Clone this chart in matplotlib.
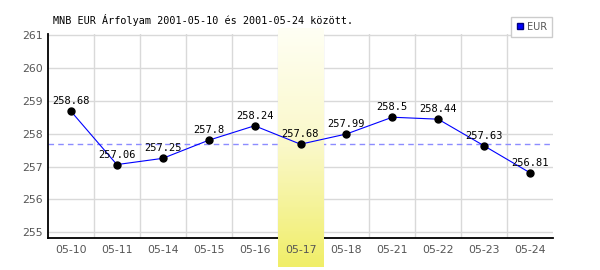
import numpy as np
import matplotlib.pyplot as plt
from matplotlib.lines import Line2D
from matplotlib.colors import LinearSegmentedColormap

# adatok
dates = ['05-10', '05-11', '05-14', '05-15', '05-16', '05-17',
         '05-18', '05-21', '05-22', '05-23', '05-24']
eur = [258.68, 257.06, 257.25, 257.8, 258.24, 257.68,
       257.99, 258.5, 258.44, 257.63, 256.81]
yticks = [255, 256, 257, 258, 259, 260, 261]
highlight = 5  # 05-17
title = 'MNB EUR Árfolyam 2001-05-10 és 2001-05-24 között.'

mono = 'DejaVu Sans Mono'
grey = '#555555'

fig = plt.figure(figsize=(6, 2.7), dpi=100)
ax = fig.add_axes([48/600, 1 - 238.3/270, (553 - 48)/600, (238.3 - 34.3)/270])
ax.set_facecolor('none')

x = np.arange(len(dates))
ax.set_xlim(-0.5, len(dates) - 0.5)
ax.set_ylim(254.82, 261.02)

# rács kézzel, hogy a sárga sáv alá kerüljön
for yv in yticks:
    ax.axhline(yv, color='#d9d9d9', lw=1, zorder=0.5)
for xv in x[:-1] + 0.5:
    ax.axvline(xv, color='#d9d9d9', lw=1, zorder=0.5)

# szaggatott vonal a kiemelt nap értékénél (a sáv alatt)
ax.axhline(eur[highlight], color='#8c8cff', lw=1, ls=(0, (4, 3)), zorder=1)

# sárga kiemelt oszlop, színátmenettel
grad = np.linspace(0, 1, 256).reshape(-1, 1)
cmap = LinearSegmentedColormap.from_list('yel', ['#fffff4', '#faf8c8', '#f0ee68'])
ax.imshow(grad, cmap=cmap, aspect='auto', origin='upper',
          extent=(highlight - 0.5, highlight + 0.5, -29/204, 210/204),
          transform=ax.get_xaxis_transform(), clip_on=False, zorder=2.6)

ax.plot(x, eur, color='#0000ff', lw=0.8, zorder=3)
ax.plot(x, eur, 'o', color='black', ms=5, zorder=4)
for xi, v in zip(x, eur):
    ax.annotate(f'{v:g}', (xi, v), xytext=(0, 3.5), textcoords='offset points',
                ha='center', va='bottom', fontsize=7.5, family=mono,
                color='black', zorder=5)

ax.set_xticks(x)
ax.set_xticklabels(dates)
ax.set_yticks(yticks)
ax.tick_params(length=0, labelsize=7.8, labelcolor=grey)
ax.tick_params(axis='x', pad=5)
ax.tick_params(axis='y', pad=4)
ax.xaxis.set_zorder(2.8)

for s in ['top', 'right']:
    ax.spines[s].set_visible(False)
ax.spines['left'].set_linewidth(1.3)
ax.spines['bottom'].set_linewidth(1.3)

fig.text(53/600, 1 - 20/270, title, family=mono, fontsize=7.3,
         ha='left', va='center')

h = Line2D([], [], marker='s', color='none', markerfacecolor='#0000ff',
           markeredgecolor='#000080', markersize=5)
fig.legend([h], ['EUR'], loc='upper right',
           bbox_to_anchor=(552/600, 1 - 17/270), borderaxespad=0,
           fancybox=False, edgecolor='#cccccc', framealpha=1,
           fontsize=7, handlelength=0.8, handletextpad=0.3,
           borderpad=0.5, labelcolor=grey)

fig.savefig('out.png', dpi=100)
